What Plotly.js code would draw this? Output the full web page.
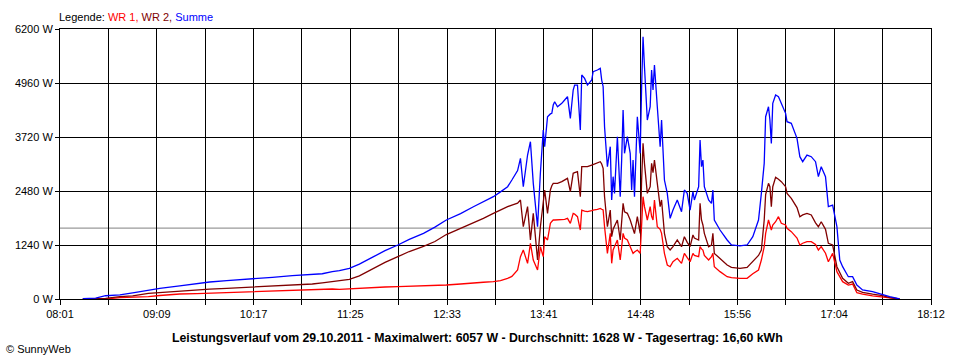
<!DOCTYPE html>
<html>
<head>
<meta charset="utf-8">
<script src="https://cdn.plot.ly/plotly-3.0.1.min.js"></script>
<style>html,body{margin:0;padding:0;background:#fff;}#chart{width:960px;height:360px;}</style>
</head>
<body>
<div id="chart"></div>
<script>
// time in minutes since midnight
const minutes = [497,506,513,523,532,543,551,565,577,586,598,612,630,644,658,665,672,677,684,691,
701,709,718,726,736,744,752,762,771,778,785,790,795,798,802,804,806,809,811,813,816,818,820,821,823,825,826,827,828,830,
833,835,837,839,840,841,842,844,846,847,849,851,854,855,858,860,861,862,863,865,867,868,869,870,872,874,875,876,877,879,
881,882,883,884,886,888,889,890,891,893,895,896,897,898,900,902,903,904,905,907,909,911,914,917,919,921,923,925,926,929,
930,931,932,933,936,938,939,940,944,949,952,958,963,967,971,973,975,976,978,979,980,981,983,985,987,990,991,994,998,1000,
1002,1005,1008,1011,1013,1015,1018,1020,1023,1026,1028,1030,1034,1037,1040,1044,1051,1058,1063,1070];

const wr1 = [0,0,0,30,40,55,80,115,125,135,153,165,185,207,220,225,230,222,235,253,
265,275,283,290,300,310,321,345,375,385,398,420,474,520,666,972,1125,819,1278,895,666,1200,972,1431,1355,1737,1780,1814,1814,1814,
1814,1830,1852,1737,1850,1967,1950,1890,1584,2043,2020,2005,2030,2043,2060,2081,2060,2043,1660,1048,1508,819,1125,1200,1355,895,1300,1508,1400,1355,
1201,1100,1048,1080,1125,1048,1814,2349,2120,1814,2120,1900,1814,2273,1660,1600,1508,1300,1048,781,742,857,934,819,1048,950,857,1048,1000,972,
1201,1150,1125,1000,895,972,1048,742,628,512,490,474,474,580,666,895,1200,1508,1814,1700,1584,1700,1775,1890,1737,1700,1622,1546,1400,1240,
1280,1317,1317,1250,1125,1201,1050,857,1048,628,500,398,321,344,145,110,70,40,15,0];

const wr2 = [0,0,15,53,70,130,150,180,210,225,245,265,300,320,344,370,398,410,452,530,
704,840,972,1090,1210,1320,1480,1620,1737,1850,1967,2050,2120,2158,2200,2273,1660,2120,1355,1967,895,1660,2273,2503,1967,2503,2600,2656,2656,2656,
2694,2730,2771,2464,2700,2886,2900,2924,2349,3038,3038,3038,3076,3090,3115,3153,3100,3000,2349,1660,2043,1431,1600,1660,1814,1355,1900,2196,2000,1967,
1814,1700,1584,1500,1890,1508,2732,3574,3115,2426,2579,3115,2900,3191,2656,2120,2273,1814,1508,1201,1125,1201,1355,1201,1431,1300,1201,1470,1400,1355,
2196,1814,1700,1508,1201,1240,1508,1048,934,781,727,704,727,857,1000,1125,1814,2400,2656,2579,2120,2579,2794,2750,2694,2579,2426,2311,2100,1890,
1930,1967,1929,1750,1660,1775,1600,1278,1240,742,600,474,360,398,207,150,110,80,30,0];

const summe = [10,20,75,95,140,206,245,300,360,390,421,450,498,536,560,580,628,650,704,800,
972,1110,1240,1370,1508,1650,1814,1960,2119,2230,2349,2460,2579,2732,2950,3230,2578,3306,3612,2656,1660,2900,3880,3497,4186,4250,4263,4454,4530,4415,
4493,4569,4646,4148,4493,4799,4913,4913,3880,5143,5066,4913,5028,5219,5258,5296,5028,4875,3956,3038,3497,2273,2809,2426,3727,2349,3191,4340,3345,3727,
3345,2503,3191,2349,4186,3345,4875,6024,5334,4110,4415,5258,4799,5373,4415,3497,4110,3497,2732,2426,1852,2043,2273,2005,2503,2426,2043,2464,2273,2579,
3651,3038,3191,2579,2273,2196,2503,1814,1584,1355,1240,1220,1240,1431,1814,2426,3115,4186,4415,4110,3574,4493,4684,4646,4493,4263,4071,4033,3689,3268,
3153,3306,3268,3153,2809,3038,2809,2120,2158,1660,895,742,512,512,321,207,168,92,53,0];

const durchschnitt = 1628;
const xStart = 481, xEnd = 1092;   // 08:01 .. 18:12
const xTickText = ["08:01","","09:09","","10:17","","11:25","","12:33","","13:41","","14:48","","15:56","","17:04","","18:12"];
const yTickVals = [0,1240,2480,3720,4960,6200];
const yTickText = ["0 W","1240 W","2480 W","3720 W","4960 W","6200 W"];

const xTickVals = xTickText.map((t,i)=> xStart + i*(xEnd-xStart)/(xTickText.length-1));

const font = "Liberation Sans, Arial, sans-serif";

const traces = [
  {x: minutes, y: wr1, name: "WR 1", mode: "lines", line: {color: "#ff0000", width: 1.3}},
  {x: minutes, y: wr2, name: "WR 2", mode: "lines", line: {color: "#800000", width: 1.3}},
  {x: minutes, y: summe, name: "Summe", mode: "lines", line: {color: "#0000ff", width: 1.3}}
];

const layout = {
  width: 960, height: 360,
  margin: {l: 60, r: 29, t: 29, b: 61},
  paper_bgcolor: "#fff", plot_bgcolor: "#fff",
  showlegend: false,
  font: {family: font, size: 11, color: "#000"},
  xaxis: {
    range: [xStart, xEnd], tickmode: "array", tickvals: xTickVals, ticktext: xTickText,
    showgrid: true, gridcolor: "#000", gridwidth: 1, zeroline: false,
    showline: true, linecolor: "#000", linewidth: 1, mirror: true,
    ticks: "outside", ticklen: 5, tickcolor: "#000", tickfont: {family: font, size: 11}
  },
  yaxis: {
    range: [0, 6200], tickmode: "array", tickvals: yTickVals, ticktext: yTickText,
    showgrid: true, gridcolor: "#000", gridwidth: 1, zeroline: false,
    showline: true, linecolor: "#000", linewidth: 1, mirror: true,
    ticks: "outside", ticklen: 4, tickcolor: "#000", tickfont: {family: font, size: 11}
  },
  shapes: [
    {type: "line", xref: "paper", x0: 0, x1: 1, yref: "y", y0: durchschnitt, y1: durchschnitt,
     line: {color: "#808080", width: 1}, layer: "below"}
  ],
  annotations: [
    {xref: "paper", yref: "paper", x: -0.003, y: 1, xanchor: "left", yanchor: "middle", yshift: 12, showarrow: false,
     text: 'Legende: <span style="color:#ff0000">WR 1, </span><span style="color:#800000">WR 2, </span><span style="color:#0000ff">Summe</span>',
     font: {family: font, size: 11, color: "#000"}},
    {xref: "paper", yref: "paper", x: (477-60)/871, y: -0.1444, xanchor: "center", yanchor: "middle", showarrow: false,
     text: "<b>Leistungsverlauf vom 29.10.2011 - Maximalwert: 6057 W - Durchschnitt: 1628 W - Tagesertrag: 16,60 kWh</b>",
     font: {family: font, size: 12.3, color: "#000"}},
    {xref: "paper", yref: "paper", x: (4-60)/871, y: -0.185, xanchor: "left", yanchor: "middle", showarrow: false,
     text: "© SunnyWeb", font: {family: font, size: 11, color: "#000"}}
  ]
};

Plotly.newPlot("chart", traces, layout, {staticPlot: true, displayModeBar: false});
</script>
</body>
</html>
